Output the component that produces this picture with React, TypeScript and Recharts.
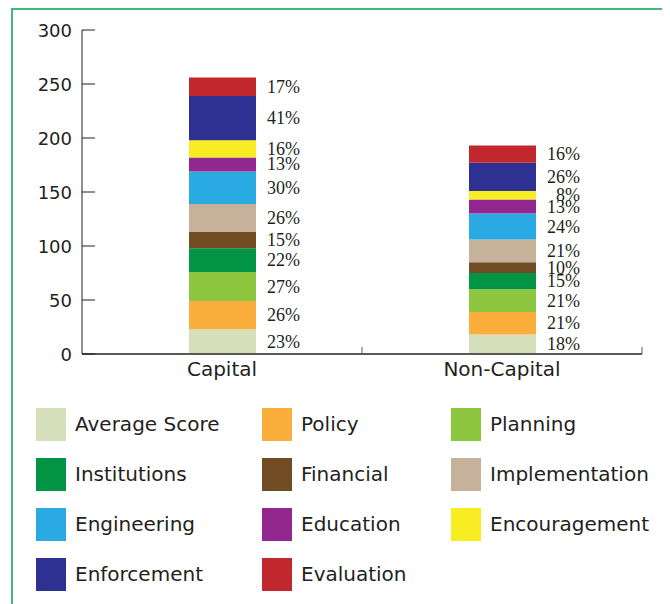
import { Bar, BarChart, LabelList, XAxis, YAxis } from "recharts";

const categories = ["Capital", "Non-Capital"];
const seriesNames = [
  "Average Score",
  "Policy",
  "Planning",
  "Institutions",
  "Financial",
  "Implementation",
  "Engineering",
  "Education",
  "Encouragement",
  "Enforcement",
  "Evaluation",
];
const seriesColors = [
  "#d5dfb9",
  "#fbae3c",
  "#8dc63f",
  "#009444",
  "#714b22",
  "#c6b29a",
  "#29aae2",
  "#92278f",
  "#f8ed22",
  "#2e3192",
  "#c1272d",
];
const capitalValues = [23, 26, 27, 22, 15, 26, 30, 13, 16, 41, 17];
const nonCapitalValues = [18, 21, 21, 15, 10, 21, 24, 13, 8, 26, 16];
const yTicks = [0, 50, 100, 150, 200, 250, 300];

const sans = "'DejaVu Sans', sans-serif";
const ink = "#231f20";

const chartData = categories.map((name, i) => {
  const vals = i === 0 ? capitalValues : nonCapitalValues;
  const row: Record<string, number | string> = { name };
  seriesNames.forEach((_, j) => {
    row["s" + j] = vals[j];
  });
  return row;
});

const PctLabel = (props: any) => {
  const vb = props.viewBox ?? props;
  const { x, y, width, height } = vb;
  return (
    <text
      x={x + width + 44}
      y={y + height / 2}
      textAnchor="end"
      dominantBaseline="central"
      fontFamily="'Liberation Serif', serif"
      fontSize={18}
      fill={ink}
    >
      {props.value}%
    </text>
  );
};

const YTick = (props: any) => {
  const { x, y, payload } = props;
  return (
    <g>
      <line x1={x + 10} x2={x + 23} y1={y} y2={y} stroke={ink} />
      <text x={x} y={y} textAnchor="end" dominantBaseline="central" fontFamily={sans} fontSize={18} fill={ink}>
        {payload.value}
      </text>
    </g>
  );
};

const XTick = (props: any) => {
  const { x, y, payload, width, visibleTicksCount } = props;
  const band = width && visibleTicksCount ? width / visibleTicksCount : 280;
  const axisY = y - 8;
  return (
    <g>
      <line x1={x + band / 2} x2={x + band / 2} y1={axisY} y2={axisY - 7} stroke="#58595b" />
      <text x={x} y={y} dy="0.71em" textAnchor="middle" fontFamily={sans} fontSize={20} fill={ink}>
        {payload.value}
      </text>
    </g>
  );
};

export default function App() {
  return (
    <div
      style={{
        marginLeft: 3,
        width: 656,
        height: 600,
        border: "2px solid #3fb97c",
        position: "relative",
        background: "#fff",
      }}
    >
      <BarChart width={656} height={390} data={chartData} margin={{ top: 20, right: 27, left: 9, bottom: 16 }}>
        <XAxis
          dataKey="name"
          height={30}
          tickSize={0}
          tickMargin={8}
          tickLine={false}
          axisLine={{ stroke: "#58595b", strokeWidth: 2 }}
          tick={<XTick />}
        />
        <YAxis
          width={60}
          domain={[0, 300]}
          ticks={yTicks}
          tickSize={0}
          tickMargin={10}
          tickLine={false}
          axisLine={{ stroke: ink }}
          tick={<YTick />}
          interval={0}
        />
        {seriesNames.map((s, j) => (
          <Bar key={s} dataKey={"s" + j} name={s} stackId="a" fill={seriesColors[j]} barSize={67} isAnimationActive={false}>
            <LabelList dataKey={"s" + j} content={<PctLabel />} />
          </Bar>
        ))}
      </BarChart>
      <div
        style={{
          position: "absolute",
          top: 389,
          left: 23,
          display: "grid",
          gridTemplateColumns: "226px 189px 210px",
          gridAutoRows: "50px",
          fontFamily: sans,
          fontSize: 20,
          color: ink,
        }}
      >
        {seriesNames.map((s, j) => (
          <div key={s} style={{ display: "flex", alignItems: "center" }}>
            <span style={{ width: 30, height: 33, background: seriesColors[j], marginRight: 9, flexShrink: 0 }} />
            <span style={{ whiteSpace: "nowrap" }}>{s}</span>
          </div>
        ))}
      </div>
    </div>
  );
}
